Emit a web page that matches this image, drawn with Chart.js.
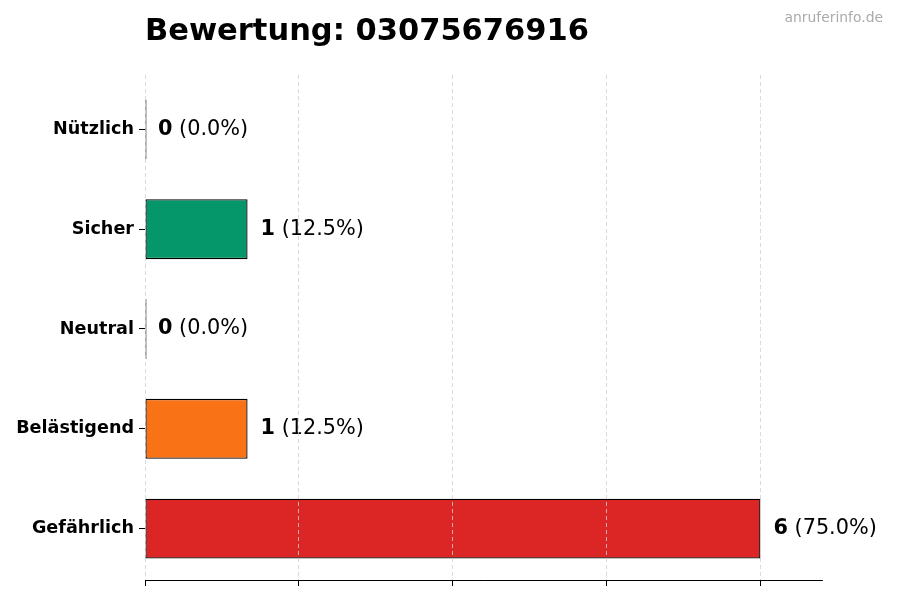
<!DOCTYPE html>
<html>
<head>
<meta charset="utf-8">
<script src="https://cdn.jsdelivr.net/npm/chart.js@4"></script>
<style>
  html, body { margin: 0; padding: 0; background: #fff; }
  #wrap { width: 900px; height: 600px; }
</style>
</head>
<body>
<div id="wrap"><canvas id="c" width="900" height="600"></canvas></div>
<script>
const titleText = "Bewertung: 03075676916";
const watermark = "anruferinfo.de";
const categories = ["Nützlich", "Sicher", "Neutral", "Belästigend", "Gefährlich"];
const counts = [0, 1, 0, 1, 6];
const barColors = ["#3b82f6", "#059669", "#9ca3af", "#f97316", "#dc2626"];
const xTicks = [0, 1.5, 3, 4.5, 6];

const total = counts.reduce((a, b) => a + b, 0);
const FONT = "'DejaVu Sans', sans-serif";

const overlay = {
  id: 'overlay',
  afterDatasetsDraw(chart) {
    const ctx = chart.ctx;
    const meta = chart.getDatasetMeta(0);
    ctx.save();
    ctx.textBaseline = 'middle';
    ctx.fillStyle = '#000';
    meta.data.forEach((bar, i) => {
      const v = counts[i];
      const pct = ' (' + (v / total * 100).toFixed(1) + '%)';
      const x0 = chart.scales.x.getPixelForValue(v) + 13;
      ctx.font = 'bold 20.8px ' + FONT;
      ctx.fillText(String(v), x0, bar.y);
      const w = ctx.measureText(String(v)).width;
      ctx.font = '20.8px ' + FONT;
      ctx.fillText(pct, x0 + w, bar.y);
    });
    ctx.restore();
  },
  afterDraw(chart) {
    const ctx = chart.ctx;
    ctx.save();
    ctx.fillStyle = '#000';
    ctx.textBaseline = 'alphabetic';
    ctx.textAlign = 'left';
    ctx.font = 'bold 30.5px ' + FONT;
    ctx.fillText(titleText, chart.chartArea.left, 40);
    ctx.fillStyle = '#aaaaaa';
    ctx.textAlign = 'right';
    ctx.font = '13.9px ' + FONT;
    ctx.fillText(watermark, 883, 22);
    ctx.restore();
  }
};

new Chart(document.getElementById('c'), {
  type: 'bar',
  data: {
    datasets: [{
      data: counts.map((v, i) => ({ x: v, y: i })),
      backgroundColor: barColors,
      borderColor: '#000',
      borderWidth: 1.3,
      borderSkipped: false,
      minBarLength: 1.5,
      barPercentage: 0.6,
      categoryPercentage: 1
    }]
  },
  options: {
    indexAxis: 'y',
    responsive: false,
    animation: false,
    layout: { padding: { top: 75, right: 78, left: 0, bottom: 0 } },
    plugins: { legend: { display: false }, tooltip: { enabled: false } },
    scales: {
      x: {
        type: 'linear',
        min: 0,
        max: 6.6,
        afterBuildTicks: s => { s.ticks = xTicks.map(v => ({ value: v })); },
        afterFit: s => { s.height = 20; },
        ticks: { display: false },
        grid: {
          z: 1,
          color: '#d0d0d0',
          lineWidth: 0.8,
          borderDash: [4, 3],
          drawTicks: true,
          tickLength: 6,
          tickColor: '#000',
          tickWidth: 1,
          tickBorderDash: []
        },
        border: { display: true, color: '#000', width: 1, dash: [4, 3], z: 1 }
      },
      y: {
        type: 'linear',
        reverse: true,
        offset: false,
        min: -0.545,
        max: 4.515,
        afterBuildTicks: s => { s.ticks = categories.map((_, i) => ({ value: i })); },
        afterFit: s => { s.width = 145; },
        ticks: {
          callback: v => categories[v],
          color: '#000',
          font: { family: FONT, size: 17.6, weight: 'bold' },
          padding: 5
        },
        grid: {
          offset: false,
          drawOnChartArea: false,
          drawTicks: true,
          tickLength: 6,
          tickColor: '#000',
          color: '#000'
        },
        border: { display: false }
      }
    }
  },
  plugins: [overlay]
});
</script>
</body>
</html>
